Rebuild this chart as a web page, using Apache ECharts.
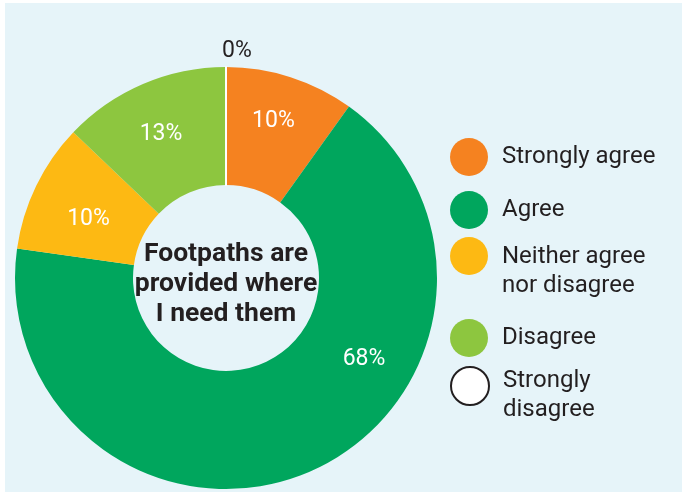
<!DOCTYPE html>
<html>
<head>
<meta charset="utf-8">
<script src="https://cdn.jsdelivr.net/npm/echarts@6/dist/echarts.min.js"></script>
<style>
  html, body { margin: 0; padding: 0; background: #ffffff; }
  #chart { width: 688px; height: 492px; }
</style>
</head>
<body>
<div id="chart"></div>
<script>
// Survey responses for one statement
const categories = ['Strongly agree', 'Agree', 'Neither agree\nnor disagree', 'Disagree', 'Strongly\ndisagree'];
const percentValues = [10, 68, 10, 13, 0];
const sliceColors = ['#f58220', '#00a65d', '#fdb913', '#8dc63f', '#ffffff'];
const centreTitle = 'Footpaths are\nprovided where\nI need them';

const CENTER = [226, 278];
const RADII = [93, 211];
const FONT = 'Roboto, "Noto Sans", sans-serif';
const INK = '#231f20';

// nudges for the in-ring percentage labels
const labelOffsets = [[0, -9], [77, -61], [2, 9], [-4, -1]];

// vertical placement of each legend row and the spacer above its text
const legendTops = [138, 191, 212, 319, 347.5];
const legendTextPadTop = [0, 0, 30, 0, 19];

const chart = echarts.init(document.getElementById('chart'), null, { renderer: 'canvas' });

const pieData = categories.map((name, i) => {
  const item = {
    name: name,
    value: percentValues[i],
    itemStyle: { color: sliceColors[i], borderWidth: 0 }
  };
  if (percentValues[i] === 0) {
    item.itemStyle = { color: sliceColors[i], borderColor: '#ffffff', borderWidth: 2 };
    item.label = { position: 'outside', color: INK, fontSize: 23 };
    item.labelLine = { show: false, length: 0, length2: 0 };
  }
  return item;
});

const legends = categories.map((name, i) => ({
  orient: 'vertical',
  left: 450,
  top: legendTops[i],
  padding: 0,
  selectedMode: false,
  icon: 'circle',
  itemWidth: 38,
  itemHeight: 38,
  data: [name],
  itemStyle: percentValues[i] === 0
    ? { color: '#ffffff', borderColor: INK, borderWidth: 2 }
    : { borderWidth: 0 },
  formatter: n => {
    const lines = n.split('\n').map(s => '{t|' + s + '}').join('\n');
    return legendTextPadTop[i] ? '{gap| }\n' + lines : lines;
  },
  textStyle: {
    fontFamily: FONT,
    fontSize: 24,
    lineHeight: 29,
    color: INK,
    padding: [0, 0, 0, 9],
    rich: {
      t: { fontFamily: FONT, fontSize: 24, lineHeight: 29, color: INK },
      gap: { fontSize: 8, lineHeight: legendTextPadTop[i] || 1 }
    }
  }
}));

const option = {
  animation: false,
  graphic: [
    {
      type: 'rect',
      z: -10,
      shape: { x: 5, y: 3, width: 677, height: 489 },
      style: { fill: '#e6f4f9' }
    },
    {
      type: 'text',
      z: 10,
      x: CENTER[0],
      y: CENTER[1] + 6,
      style: {
        text: centreTitle,
        align: 'center',
        verticalAlign: 'middle',
        fontFamily: FONT,
        fontSize: 26.5,
        fontWeight: 'bold',
        lineHeight: 30,
        fill: INK
      }
    }
  ],
  legend: legends,
  series: [
    {
      type: 'pie',
      center: CENTER,
      radius: RADII,
      startAngle: 90,
      clockwise: true,
      avoidLabelOverlap: false,
      silent: true,
      label: {
        show: true,
        position: 'inside',
        formatter: p => p.value + '%',
        color: '#ffffff',
        fontFamily: FONT,
        fontSize: 23
      },
      labelLine: { show: false },
      labelLayout: function (params) {
        const i = params.dataIndex;
        if (i < labelOffsets.length) {
          return { dx: labelOffsets[i][0], dy: labelOffsets[i][1] };
        }
        return {
          x: CENTER[0] + 11,
          y: CENTER[1] - RADII[1] - 16,
          align: 'center',
          verticalAlign: 'middle'
        };
      },
      data: pieData
    }
  ]
};

chart.setOption(option);
</script>
</body>
</html>
